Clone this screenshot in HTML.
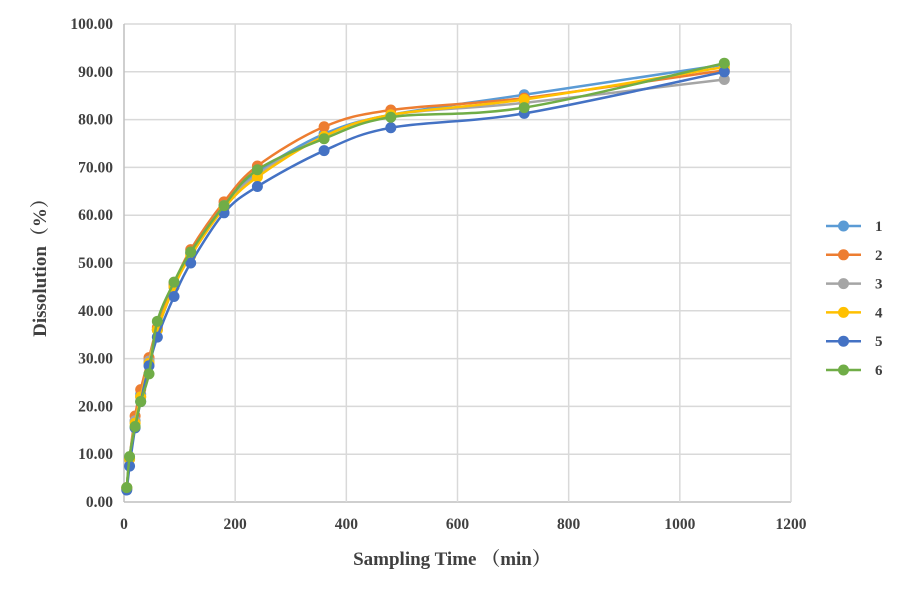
<!DOCTYPE html>
<html><head><meta charset="utf-8"><style>
body{margin:0;background:#fff;}
svg{display:block;font-family:"Liberation Serif","Noto Serif CJK SC",serif;}
</style></head><body>
<svg id="s" width="904" height="597" xmlns="http://www.w3.org/2000/svg">
<g id="grid"></g>
<g id="series"></g>
<g id="leg"></g>
<text x="452" y="565" text-anchor="middle" font-size="19" font-weight="bold" fill="#404040">Sampling Time （min）</text>
<text transform="translate(46,263) rotate(-90)" text-anchor="middle" font-size="19" font-weight="bold" fill="#404040">Dissolution（%）</text>
</svg>
<script>
const NS="http://www.w3.org/2000/svg";
const X=t=>124+t*667/1200, Y=v=>502-v*4.78;
function el(n,a,p,txt){const e=document.createElementNS(NS,n);for(const k in a)e.setAttribute(k,a[k]);if(txt!==undefined)e.textContent=txt;p.appendChild(e);return e;}
const g=document.getElementById('grid');
for(let i=0;i<=10;i++){const y=Y(i*10);el('line',{x1:124,x2:791,y1:y,y2:y,stroke:i?'#d9d9d9':'#bfbfbf','stroke-width':1.5},g);
el('text',{x:113,y:y+5,'text-anchor':'end','font-size':15.5,'font-weight':'bold',fill:'#404040'},g,(i*10).toFixed(2));}
for(let i=0;i<=6;i++){const x=X(i*200);el('line',{x1:x,x2:x,y1:24,y2:502,stroke:i?'#d9d9d9':'#bfbfbf','stroke-width':1.5},g);
el('text',{x:x,y:529,'text-anchor':'middle','font-size':15.5,'font-weight':'bold',fill:'#404040'},g,i*200);}
const T=[5,10,20,30,45,60,90,120,180,240,360,480,720,1080];
const S=[
['1','#5B9BD5',[3,9,17,22.5,29.5,36,45,52,62,69,77,81,85.2,91.5]],
['2','#ED7D31',[2.7,9,18,23.5,30.2,36.5,45.5,52.8,62.8,70.3,78.5,82,84.5,90.3]],
['3','#A5A5A5',[3,9,17,22,29.5,36,45,52,62,68.5,76.5,81,83.5,88.4]],
['4','#FFC000',[3,9,16.5,22,29,36,45,51.5,61.5,68,76.5,81,84.2,91]],
['5','#4472C4',[2.5,7.5,15.5,21,28.5,34.5,43,50,60.5,66,73.5,78.3,81.3,90]],
['6','#70AD47',[3,9.5,15.8,21,26.8,37.8,46,52.3,62,69.5,76,80.5,82.5,91.8]]];
const sg=document.getElementById('series'),lg=document.getElementById('leg');
S.forEach((s,k)=>{const P=T.map((t,i)=>[X(t),Y(s[2][i])]);
let d='M'+P[0];for(let i=0;i<P.length-1;i++){const p0=P[i-1]||P[i],p1=P[i],p2=P[i+1],p3=P[i+2]||p2;
const c1=[p1[0]+(p2[0]-p0[0])/6,p1[1]+(p2[1]-p0[1])/6],c2=[p2[0]-(p3[0]-p1[0])/6,p2[1]-(p3[1]-p1[1])/6];
d+=` C${c1} ${c2} ${p2}`;}
el('path',{d:d,fill:'none',stroke:s[1],'stroke-width':2.5},sg);
P.forEach(p=>el('circle',{cx:p[0],cy:p[1],r:5.5,fill:s[1]},sg));
const ly=226+k*28.8;el('line',{x1:826,x2:861,y1:ly,y2:ly,stroke:s[1],'stroke-width':2.5},lg);
el('circle',{cx:843.5,cy:ly,r:5.5,fill:s[1]},lg);
el('text',{x:875,y:ly+5,'font-size':15,'font-weight':'bold',fill:'#404040'},lg,s[0]);});
</script>
</body></html>
